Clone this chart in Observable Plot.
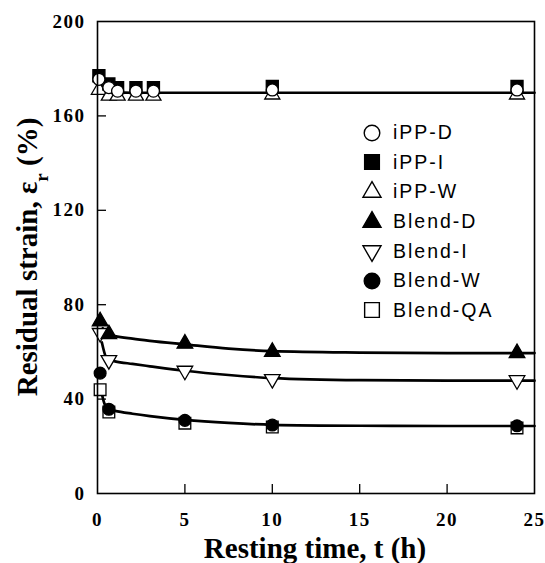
<!DOCTYPE html>
<html><head><meta charset="utf-8">
<script src="https://cdn.jsdelivr.net/npm/d3@7"></script>
<script src="https://cdn.jsdelivr.net/npm/@observablehq/plot@0.6"></script>
<style>
html,body{margin:0;padding:0;background:#fff;}
#wrap{position:relative;width:545px;height:563px;overflow:hidden;}
#legend{position:absolute;left:362px;top:118px;font-family:"Liberation Sans",Arial,sans-serif;font-size:19.5px;letter-spacing:2px;color:#000;}
.row{height:29.6px;display:flex;align-items:center;}
.row svg{width:20px;height:20px;margin-right:11px;overflow:visible}
</style></head><body><div id="wrap"><div id="legend"></div></div>
<script>
// ---- data ----
const seriesNames = ["iPP-D","iPP-I","iPP-W","Blend-D","Blend-I","Blend-W","Blend-QA"];
const iPP_t   = [0.08, 0.65, 1.15, 2.2, 3.2, 10, 24];
const iPP_D   = [175.5, 172, 170.5, 170.5, 170.5, 171, 171];
const iPP_I   = [177, 173.5, 172, 172, 172, 172.5, 172.5];
const iPP_W   = [171, 168.5, 168.5, 168.5, 168.5, 169, 169];
const blend_t = [0.15, 0.65, 5, 10, 24];
const blend_D = [73, 67.5, 63.5, 60, 59.5];
const blend_I = [68, 56.5, 52, 48.5, 48];
const blend_W = [51, 35.7, 31, 29, 28.7];
const blend_QA= [44, 34.5, 29.8, 28.2, 27.8];
// fitted curves
const fitP_t = [0.15, 0.3, 0.6, 1, 2, 5, 10, 15, 20, 25];
const fitP   = [174, 171.5, 170.3, 170, 169.8, 169.8, 169.8, 169.8, 169.8, 169.8];
const fitD_t = [0.3, 0.65, 1, 2, 3, 5, 7.5, 10, 15, 20, 25];
const fitD   = [70, 67.3, 66.7, 65.6, 64.7, 63.2, 61.4, 60.3, 59.7, 59.5, 59.5];
const fitI_t = [0.25, 0.5, 0.65, 1, 2, 3, 5, 7.5, 10, 15, 20, 25];
const fitI   = [64, 57.5, 56.6, 56.0, 54.9, 53.9, 52.0, 50.2, 48.9, 48.0, 47.8, 47.8];
const fitW_t = [0.2, 0.4, 0.65, 1, 2, 3, 5, 7.5, 10, 15, 20, 25];
const fitW   = [44, 38, 35.6, 35.0, 33.8, 32.8, 31.2, 29.9, 29.1, 28.7, 28.6, 28.6];
const xTicks = [0, 5, 10, 15, 20, 25];
const yTicks = [0, 40, 80, 120, 160, 200];

// ---- build ----
const sqrt3 = Math.sqrt(3);
const triangleDown = {draw(c, size){ const y = -Math.sqrt(size/(sqrt3*3)); c.moveTo(0,-y*2); c.lineTo(-sqrt3*y, y); c.lineTo(sqrt3*y, y); c.closePath(); }};
const pts = (ts, vs) => ts.map((t,i)=>({t, v: vs[i]}));
const styles = {
  "iPP-D":   {symbol:"circle", d3s:d3.symbolCircle, fill:"white", r:6.0, lr:7.8},
  "iPP-I":   {symbol:"square", d3s:d3.symbolSquare, fill:"black", r:6.8, lr:8.3},
  "iPP-W":   {symbol:"triangle", d3s:d3.symbolTriangle, fill:"white", r:5.6, lr:6.7},
  "Blend-D": {symbol:"triangle", d3s:d3.symbolTriangle, fill:"black", r:5.8, lr:6.7},
  "Blend-I": {symbol:triangleDown, d3s:triangleDown, fill:"white", r:5.8, lr:6.7},
  "Blend-W": {symbol:"circle", d3s:d3.symbolCircle, fill:"black", r:5.9, lr:7.8},
  "Blend-QA":{symbol:"square", d3s:d3.symbolSquare, fill:"white", r:6.6, lr:8.3}
};
const seriesData = {
  "iPP-D": pts(iPP_t, iPP_D), "iPP-I": pts(iPP_t, iPP_I), "iPP-W": pts(iPP_t, iPP_W),
  "Blend-D": pts(blend_t, blend_D), "Blend-I": pts(blend_t, blend_I),
  "Blend-W": pts(blend_t, blend_W), "Blend-QA": pts(blend_t, blend_QA)
};
const drawOrder = ["iPP-W","iPP-I","iPP-D","Blend-QA","Blend-W","Blend-I","Blend-D"];
const fits = [pts(fitP_t, fitP), pts(fitD_t, fitD), pts(fitI_t, fitI), pts(fitW_t, fitW)];

const marks = [];
fits.forEach(f => marks.push(Plot.line(f, {x:"t", y:"v", stroke:"black", strokeWidth:2.7, curve:"monotone-x"})));
drawOrder.forEach(n => {
  const s = styles[n];
  marks.push(Plot.dot(seriesData[n], {x:"t", y:"v", symbol: ()=>s.symbol, r:s.r, fill:s.fill, stroke:"black", strokeWidth:1.3}));
});
marks.push(Plot.ruleY(yTicks.slice(1,-1), {y:d=>d, x1:0, x2:0, insetRight:-9, stroke:"black", strokeWidth:1.3}));
marks.push(Plot.ruleX(xTicks.slice(1,-1), {x:d=>d, y1:0, y2:0, insetTop:-9, stroke:"black", strokeWidth:1.3}));
marks.push(Plot.frame({stroke:"black", strokeWidth:1.6}));
marks.push(Plot.axisY(yTicks, {tickSize:0, tickPadding:12, label:null, fontSize:19}));
marks.push(Plot.axisX(xTicks, {tickSize:0, tickPadding:19, label:null, fontSize:19}));

const chart = Plot.plot({
  width:545, height:563,
  marginLeft:97, marginRight:11, marginTop:21, marginBottom:70,
  x:{domain:[0,25]}, y:{domain:[0,200]},
  symbol:{type:"identity"},
  style:{fontFamily:"'Liberation Serif', 'DejaVu Serif', serif", fontWeight:"bold", fontSize:"19px", color:"black", background:"white", letterSpacing:"1.5px"},
  marks
});
document.getElementById("wrap").prepend(chart);

// axis titles
const svg = d3.select(chart);
svg.append("text").attr("x", 315).attr("y", 558).attr("text-anchor","middle")
  .attr("font-family","'Liberation Serif', serif").attr("font-weight","bold").attr("font-size",29).attr("fill","black")
  .attr("letter-spacing","0px")
  .text("Resting time, t (h)");
const yt = svg.append("text").attr("transform","translate(37,257) rotate(-90)").attr("text-anchor","middle")
  .attr("font-family","'Liberation Serif', serif").attr("font-weight","bold").attr("font-size",29).attr("fill","black")
  .attr("letter-spacing","0px");
yt.append("tspan").text("Residual strain, ε");
yt.append("tspan").attr("baseline-shift","sub").attr("font-size",19).text("r");
yt.append("tspan").text(" (%)");

// legend
const leg = document.getElementById("legend");
const ns = "http://www.w3.org/2000/svg";
seriesNames.forEach(n => {
  const s = styles[n];
  const row = document.createElement("div"); row.className = "row";
  const sv = document.createElementNS(ns, "svg");
  const p = document.createElementNS(ns, "path");
  p.setAttribute("d", d3.symbol(s.d3s, Math.PI * s.lr * s.lr)());
  p.setAttribute("transform","translate(10,10)");
  p.setAttribute("fill", s.fill); p.setAttribute("stroke","black"); p.setAttribute("stroke-width","1.4");
  sv.appendChild(p); row.appendChild(sv);
  const tx = document.createElement("span"); tx.textContent = n; row.appendChild(tx);
  leg.appendChild(row);
});
</script></body></html>
